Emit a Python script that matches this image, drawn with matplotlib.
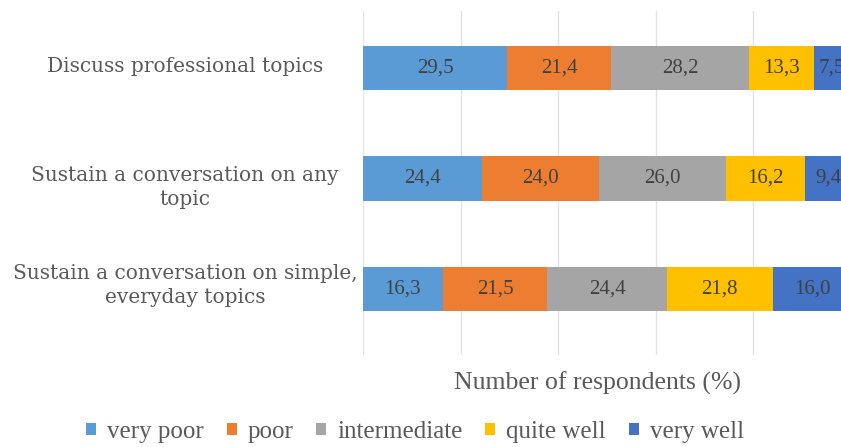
import numpy as np
import matplotlib.pyplot as plt

# Survey data (percent of respondents), bottom to top
categories = ["Sustain a conversation on simple,\neveryday topics",
              "Sustain a conversation on any\ntopic",
              "Discuss professional topics"]
levels = ["very poor", "poor", "intermediate", "quite well", "very well"]
very_poor = [16.3, 24.4, 29.5]
poor = [21.5, 24.0, 21.4]
intermediate = [24.4, 26.0, 28.2]
quite_well = [21.8, 16.2, 13.3]
very_well = [16.0, 9.4, 7.5]

series = [very_poor, poor, intermediate, quite_well, very_well]
colors = ["#5B9BD5", "#ED7D31", "#A5A5A5", "#FFC000", "#4472C4"]

W, H = 841, 447
fig = plt.figure(figsize=(W / 100, H / 100), dpi=100)
# axes runs past the right edge, as in the cropped original
ax = fig.add_axes([363 / W, 1 - 355 / H, 488 / W, 344 / H])

y = np.arange(len(categories))
left = np.zeros(len(categories))
for name, vals, col in zip(levels, series, colors):
    bars = ax.barh(y, vals, left=left, height=0.4, color=col, label=name, zorder=3)
    labels = [f"{v:.1f}".replace(".", ",") for v in vals]
    ax.bar_label(bars, labels=labels, label_type="center", color="#404040",
                 fontsize=15, family="Liberation Serif")
    left += np.array(vals)

ax.set_xlim(0, 100)
ax.set_ylim(-0.595, 2.512)
ax.set_xticks([0, 20, 40, 60, 80, 100])
ax.xaxis.grid(True, color="#E3E3E3", linewidth=1.0, zorder=0)
ax.tick_params(axis="both", length=0, labelbottom=False, labelleft=False)
for s in ax.spines.values():
    s.set_visible(False)

# category labels, centred to the left of the bars (small nudges as in the original)
nudge = [0.03, -0.08, 0.01]
for yi, cat, dy in zip(y, categories, nudge):
    ax.text(-36.5, yi + dy, cat, ha="center", va="center", fontsize=14.5,
            family="DejaVu Serif", color="#595959", linespacing=1.35)

fig.text(598 / W, 1 - 383 / H, "Number of respondents (%)", ha="center", va="center",
         fontsize=18.5, family="Liberation Serif", color="#595959")

handles, lbls = ax.get_legend_handles_labels()
leg = fig.legend(handles, lbls, loc="center", bbox_to_anchor=(415 / W, 1 - 432 / H),
                 ncol=5, frameon=False, handlelength=0.4, handleheight=0.4,
                 handletextpad=0.45, columnspacing=0.9,
                 prop={"family": "Liberation Serif", "size": 18})
for t in leg.get_texts():
    t.set_color("#595959")

fig.savefig("out.png", dpi=100)
